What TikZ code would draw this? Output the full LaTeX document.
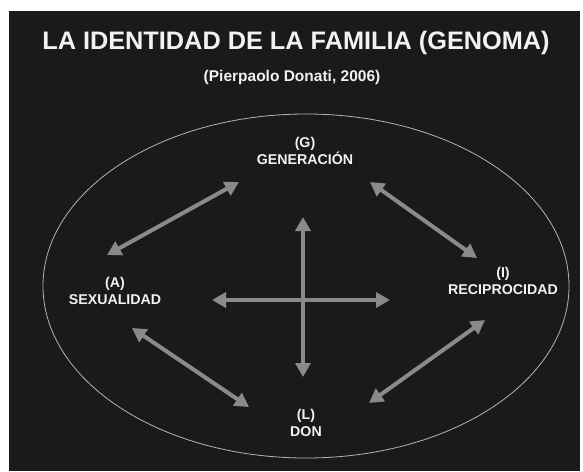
\documentclass[tikz,border=0pt]{standalone}
\usepackage{fontspec}
\setmainfont{Liberation Sans}
\usetikzlibrary{arrows.meta}

\definecolor{board}{RGB}{26,26,26}
\definecolor{arrowgray}{RGB}{138,138,138}
\definecolor{rimgray}{RGB}{180,180,180}
\definecolor{ink}{RGB}{242,242,242}

\begin{document}
\begin{tikzpicture}[
    x=1pt,
    y=-1pt,
    title/.style={text=ink, font=\bfseries\fontsize{25.3}{29}\selectfont},
    subtitle/.style={text=ink, font=\bfseries\fontsize{15.5}{18}\selectfont},
    pole/.style={text=ink, align=center, inner sep=0pt,
        font=\bfseries\fontsize{14.2}{17}\selectfont},
    rim/.style={draw=rimgray, line width=0.8pt},
    link/.style={draw=arrowgray, line width=4pt,
        {Triangle[length=14pt,width=15pt]}-{Triangle[length=14pt,width=15pt]}},
]

    \useasboundingbox (0,0) rectangle (583,471);
    \fill[white] (0,0) rectangle (583,471);
    \fill[board] (9,11) rectangle (580,471);

    \node[title]    (T) at (296,43) {LA IDENTIDAD DE LA FAMILIA (GENOMA)};
    \node[subtitle] (S) at (292,77) {(Pierpaolo Donati, 2006)};

    \draw[rim] (306,286) ellipse [x radius=263pt, y radius=172pt];

    \node[pole] (G) at (305,151) {(G)\\GENERACIÓN};
    \node[pole] (A) at (115,291) {(A)\\SEXUALIDAD};
    \node[pole] (I) at (503,281) {(I)\\RECIPROCIDAD};
    \node[pole] (L) at (306,423) {(L)\\DON};

    % arrow ends
    \coordinate (AG) at (107,255);
    \coordinate (GA) at (239,182);
    \coordinate (GI) at (370,182);
    \coordinate (IG) at (477,258);
    \coordinate (AL) at (132,328);
    \coordinate (LA) at (249,407);
    \coordinate (IL) at (485,320);
    \coordinate (LI) at (369,403);
    \coordinate (up)    at (303,217);
    \coordinate (down)  at (303,377);
    \coordinate (left)  at (212,300);
    \coordinate (right) at (390,300);

    \path
        (AG)   edge [link] (GA)
        (GI)   edge [link] (IG)
        (AL)   edge [link] (LA)
        (IL)   edge [link] (LI)
        (up)   edge [link] (down)
        (left) edge [link] (right)
    ;
\end{tikzpicture}
\end{document}
